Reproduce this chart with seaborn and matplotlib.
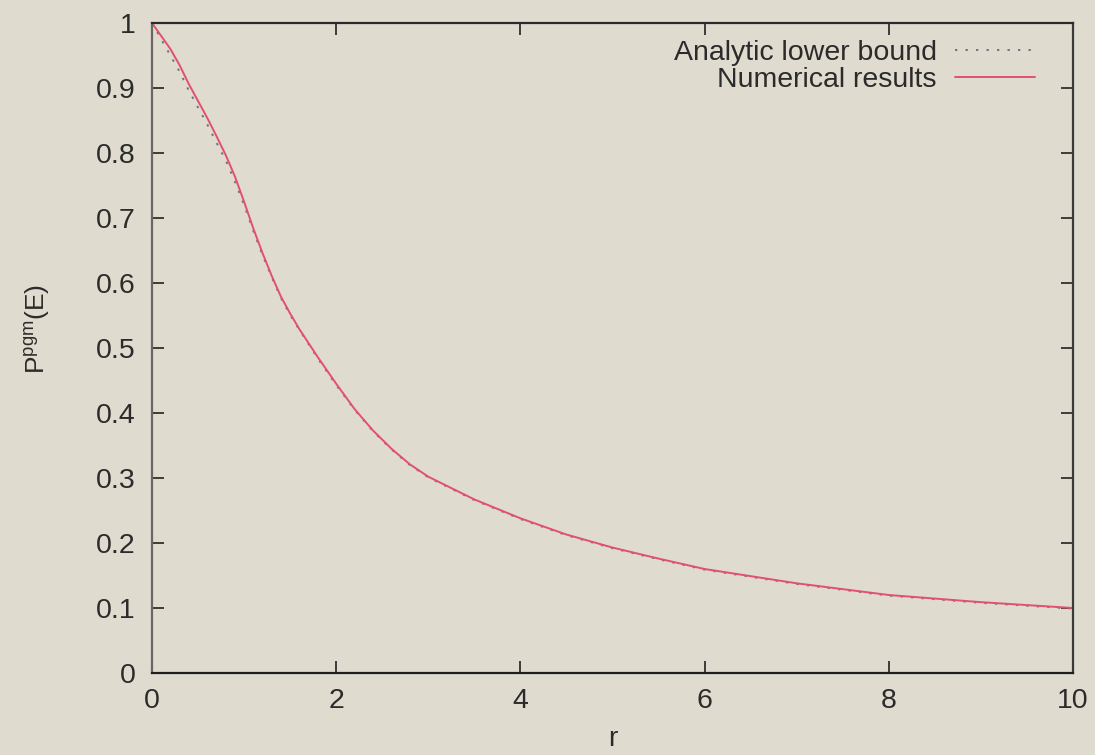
import matplotlib
matplotlib.use("Agg")
import matplotlib.pyplot as plt
import seaborn as sns
import pandas as pd

# ---- data ----
r_values = [0, 0.1, 0.2, 0.3, 0.4, 0.5, 0.6, 0.7, 0.8, 0.9, 1.0, 1.1, 1.2, 1.3,
            1.4, 1.5, 1.6, 1.8, 2.0, 2.2, 2.4, 2.6, 2.8, 3.0, 3.5, 4.0, 4.5,
            5.0, 5.5, 6.0, 7.0, 8.0, 9.0, 10.0]
numerical = [1.0, 0.98, 0.96, 0.935, 0.906, 0.88, 0.854, 0.826, 0.797, 0.764,
             0.725, 0.684, 0.646, 0.611, 0.579, 0.553, 0.529, 0.486, 0.445,
             0.406, 0.373, 0.345, 0.321, 0.302, 0.267, 0.238, 0.213, 0.193,
             0.176, 0.160, 0.138, 0.120, 0.109, 0.100]
analytic = [1.0, 0.975, 0.95, 0.925, 0.896, 0.87, 0.844, 0.816, 0.789, 0.756,
            0.72, 0.68, 0.643, 0.609, 0.577, 0.551, 0.528, 0.484, 0.443,
            0.405, 0.372, 0.344, 0.320, 0.301, 0.266, 0.237, 0.212, 0.192,
            0.175, 0.159, 0.137, 0.119, 0.108, 0.099]
series_labels = ["Analytic lower bound", "Numerical results"]
x_ticks = [0, 2, 4, 6, 8, 10]
y_ticks = [0, 0.1, 0.2, 0.3, 0.4, 0.5, 0.6, 0.7, 0.8, 0.9, 1]
y_ticklabels = ["0", "0.1", "0.2", "0.3", "0.4", "0.5", "0.6", "0.7", "0.8", "0.9", "1"]

df = pd.DataFrame({
    "r": r_values * 2,
    "P": analytic + numerical,
    "series": [series_labels[0]] * len(r_values) + [series_labels[1]] * len(r_values),
})

sns.set_theme(style="ticks")
bg = "#e0dbcf"
txt = "#2b2b2b"
plt.rcParams["font.family"] = ["Liberation Sans", "DejaVu Sans"]
plt.rcParams["mathtext.default"] = "regular"

fig = plt.figure(figsize=(10.95, 7.55), dpi=100, facecolor=bg)
ax = fig.add_axes([152 / 1095, 82 / 755, 921 / 1095, 650 / 755])
ax.set_facecolor(bg)

palette = {series_labels[0]: "#6f7385", series_labels[1]: "#e2506e"}
sns.lineplot(data=df, x="r", y="P", hue="series", style="series",
             palette=palette,
             dashes={series_labels[0]: (1.2, 4.2), series_labels[1]: ""},
             linewidth=1.4, ax=ax, legend=True, sort=False)

ax.set_xlim(0, 10)
ax.set_ylim(0, 1)
ax.set_xticks(x_ticks)
ax.set_xticklabels([str(t) for t in x_ticks])
ax.set_yticks(y_ticks)
ax.set_yticklabels(y_ticklabels)

ax.tick_params(axis="both", direction="in", length=8.5, width=1.2,
               colors="#222222", labelsize=20.5, labelcolor=txt,
               top=True, right=True)
ax.tick_params(axis="x", pad=11)
ax.tick_params(axis="y", pad=12)

for side, col in [("left", "#6a6662"), ("bottom", "#1e1e1e"),
                  ("top", "#2a2a2a"), ("right", "#3a3a3a")]:
    ax.spines[side].set_color(col)
    ax.spines[side].set_linewidth(1.6)
    ax.spines[side].set_visible(True)

ax.set_xlabel("r", fontsize=20.5, color=txt)
ax.xaxis.set_label_coords(0.5, -0.082)
ax.set_ylabel(r"P$^{pgm}$(E)", fontsize=19, color=txt)
ax.yaxis.set_label_coords(-0.109, 0.53)

handles, labels = ax.get_legend_handles_labels()
leg = ax.legend(handles, labels, loc="upper right",
                bbox_to_anchor=((1035 - 152) / 921, (673 - 40) / 650),
                frameon=False, markerfirst=False, fontsize=20.5,
                handlelength=2.8, handletextpad=0.65, labelspacing=0.05,
                borderpad=0, borderaxespad=0)
for t in leg.get_texts():
    t.set_color(txt)
for h in leg.get_lines():
    h.set_linewidth(1.4)

fig.savefig("out.png", dpi=100, facecolor=bg)
